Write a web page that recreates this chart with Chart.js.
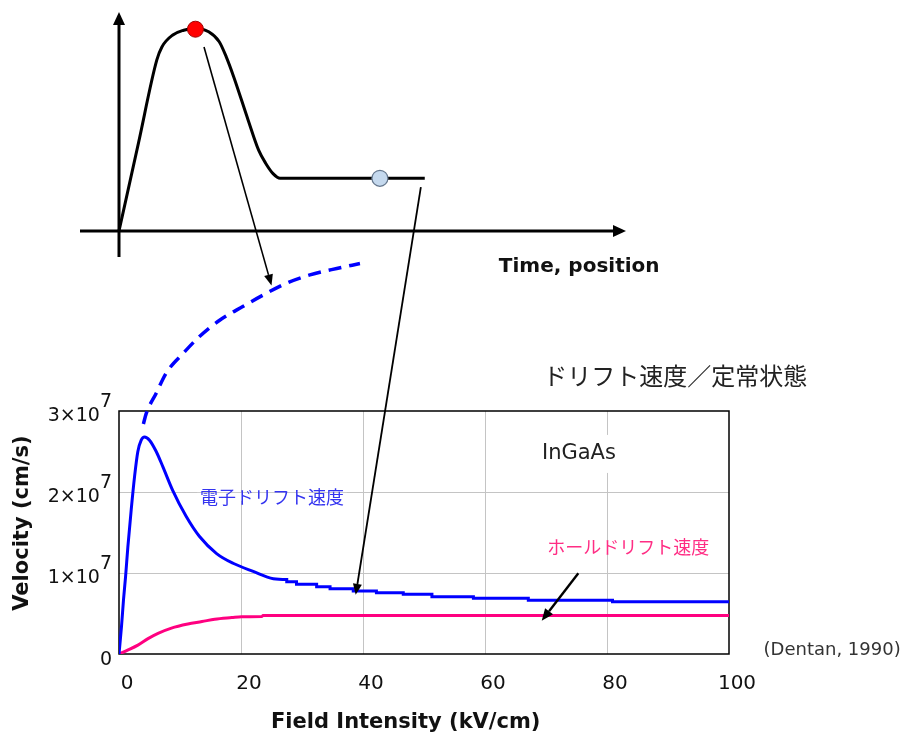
<!DOCTYPE html>
<html><head><meta charset="utf-8">
<script src="https://cdn.jsdelivr.net/npm/chart.js@4.4.1/dist/chart.umd.min.js"></script>
<style>
html,body{margin:0;padding:0;background:#fff;}
#wrap{position:relative;width:906px;height:738px;overflow:hidden;}
#wrap canvas{position:absolute;left:0;top:0;}
</style></head><body>
<div id="wrap"><canvas id="schem" width="906" height="738"></canvas><canvas id="main" width="906" height="738"></canvas></div>
<script>
// ---------- main chart data (velocity in units of 10^7 cm/s) ----------
const eField = [0,0.41,0.74,1.07,1.45,2.0,2.55,3.09,3.64,4.19,5.0,6.1,7.2,8.8,11.0,13.2,16.0,18.7,22.0,25.3,27.5,27.5,29.1,29.1,32.4,32.4,34.6,34.6,38.4,38.4,42.2,42.2,46.6,46.6,51.3,51.3,58.1,58.1,67.1,67.1,80.9,80.9,100];
const eVel   = [0,0.34,0.67,0.95,1.32,1.78,2.19,2.50,2.64,2.68,2.64,2.50,2.31,2.02,1.70,1.45,1.24,1.12,1.02,0.93,0.92,0.893,0.893,0.86,0.86,0.831,0.831,0.806,0.806,0.778,0.778,0.757,0.757,0.737,0.737,0.707,0.707,0.688,0.688,0.665,0.665,0.645,0.645];
const hField = [0,1.5,3.1,4.76,6.4,8.6,11.3,13.6,15.7,18.5,20.1,23.4,23.6,100];
const hVel   = [0,0.05,0.11,0.19,0.255,0.32,0.37,0.40,0.43,0.45,0.46,0.462,0.474,0.474];
const dField = [4.0,4.47,6.1,7.75,10.5,13.2,16.5,20.3,23.6,27.5,31.3,35.7,39.5];
const dVel   = [2.84,2.97,3.22,3.47,3.71,3.92,4.12,4.29,4.43,4.58,4.68,4.76,4.82];
const xTicks = [0,20,40,60,80,100];
const yTickMantissa = ['0','1×10','2×10','3×10'];
const yTickExponent = '7';

// ---------- schematic (time / position) data ----------
const sTime = [0,0.5,0.97,1.10,1.38,1.66,1.96,2.30,2.57,2.75,2.94,3.31,3.58,3.76,3.95,4.13,7.84];
const sVal  = [0,1.69,3.28,3.53,3.76,3.85,3.89,3.82,3.63,3.34,2.96,2.13,1.55,1.30,1.10,1.01,1.01];
const peakDot = [1.96,3.87];
const steadyDot = [6.69,1.01];

const LATIN = "'DejaVu Sans', sans-serif";
const CJK = "'Noto Sans CJK JP', sans-serif";
Chart.defaults.font.family = LATIN;

const pts = (xs, ys) => xs.map((x,i)=>({x, y: ys[i]}));

function drawArrow(ctx,x1,y1,x2,y2,w,hl,hw){
  const a = Math.atan2(y2-y1,x2-x1);
  const bx = x2-hl*Math.cos(a), by = y2-hl*Math.sin(a);
  ctx.save();
  ctx.strokeStyle='#000'; ctx.fillStyle='#000'; ctx.lineWidth=w;
  ctx.beginPath(); ctx.moveTo(x1,y1); ctx.lineTo(bx,by); ctx.stroke();
  ctx.beginPath(); ctx.moveTo(x2,y2);
  ctx.lineTo(bx+hw*Math.sin(a), by-hw*Math.cos(a));
  ctx.lineTo(bx-hw*Math.sin(a), by+hw*Math.cos(a));
  ctx.closePath(); ctx.fill();
  ctx.restore();
}

// ---------- schematic chart ----------
const schemPlugin = {
  id:'schemAxes',
  beforeDatasetsDraw(chart){
    const {ctx, chartArea:a, scales:{x,y}} = chart;
    const x0 = x.getPixelForValue(0), y0 = y.getPixelForValue(0);
    ctx.save();
    ctx.strokeStyle='#000'; ctx.fillStyle='#000'; ctx.lineWidth=3;
    ctx.beginPath(); ctx.moveTo(a.left,y0); ctx.lineTo(a.right-10,y0); ctx.stroke();
    ctx.beginPath(); ctx.moveTo(a.right,y0); ctx.lineTo(a.right-13,y0-6); ctx.lineTo(a.right-13,y0+6); ctx.closePath(); ctx.fill();
    ctx.beginPath(); ctx.moveTo(x0,a.bottom); ctx.lineTo(x0,a.top+10); ctx.stroke();
    ctx.beginPath(); ctx.moveTo(x0,a.top); ctx.lineTo(x0-6,a.top+13); ctx.lineTo(x0+6,a.top+13); ctx.closePath(); ctx.fill();
    ctx.restore();
  },
  afterDraw(chart){
    const {ctx, scales:{x,y}} = chart;
    ctx.save();
    ctx.font = "bold 20px "+LATIN; ctx.fillStyle='#111';
    ctx.textAlign='center'; ctx.textBaseline='middle';
    ctx.fillText('Time, position', x.getPixelForValue(11.8), y.getPixelForValue(-0.69));
    ctx.restore();
  }
};

const schem = new Chart(document.getElementById('schem'), {
  type:'line',
  data:{datasets:[
    {data:[{x:peakDot[0],y:peakDot[1]}], showLine:false, pointRadius:8, pointBackgroundColor:'#ff0000', pointBorderColor:'#a00000', pointBorderWidth:1, order:0},
    {data:[{x:steadyDot[0],y:steadyDot[1]}], showLine:false, pointRadius:8, pointBackgroundColor:'#c5d9ee', pointBorderColor:'#66788e', pointBorderWidth:1.2, order:0},
    {data:pts(sTime,sVal), borderColor:'#000', borderWidth:3, pointRadius:0, cubicInterpolationMode:'monotone', fill:false, order:1}
  ]},
  options:{
    responsive:false, animation:false, devicePixelRatio:1,
    layout:{padding:{left:80,right:280,top:12,bottom:481}},
    plugins:{legend:{display:false}, tooltip:{enabled:false}},
    scales:{
      x:{type:'linear', min:-1, max:13, display:false},
      y:{type:'linear', min:-0.5, max:4.2, display:false}
    }
  },
  plugins:[schemPlugin]
});

// ---------- main chart ----------
const notes = [
  {text:'InGaAs', x:75.4, y:2.47, font:'21px '+LATIN, color:'#222', padX:10, padY:19},
  {text:'電子ドリフト速度', x:25.1, y:1.94, font:'18px '+CJK, color:'#3434f0', padX:3, padY:4},
  {text:'ホールドリフト速度', x:83.5, y:1.32, font:'18px '+CJK, color:'#ff2d84', padX:3, padY:4}
];
const outerNotes = [
  {text:'ドリフト速度／定常状態', x:91.2, y:3.43, font:'24px '+CJK, color:'#222'},
  {text:'(Dentan, 1990)', x:116.9, y:0.05, font:'18px '+LATIN, color:'#333'}
];

const mainPlugin = {
  id:'mainDeco',
  beforeDatasetsDraw(chart){
    const {ctx, chartArea:a, scales:{x,y}} = chart;
    ctx.save();
    notes.forEach(n=>{
      const px = x.getPixelForValue(n.x), py = y.getPixelForValue(n.y);
      ctx.font = n.font;
      const w = ctx.measureText(n.text).width;
      ctx.fillStyle='#fff';
      ctx.fillRect(px-w/2-n.padX, py-n.padY, w+2*n.padX, 2*n.padY);
      ctx.fillStyle=n.color; ctx.textAlign='center'; ctx.textBaseline='middle';
      ctx.fillText(n.text, px, py);
    });
    ctx.strokeStyle='#000'; ctx.lineWidth=1.5;
    ctx.strokeRect(a.left, a.top, a.right-a.left, a.bottom-a.top);
    ctx.restore();
  },
  afterDraw(chart){
    const {ctx, chartArea:a, scales:{x,y}} = chart;
    ctx.save();
    // y tick labels with superscript exponent
    ctx.font = '19px '+LATIN; ctx.fillStyle='#111'; ctx.textAlign='right'; ctx.textBaseline='alphabetic';
    const rx = a.left - 7;
    y.ticks.forEach((t,i)=>{
      const py = y.getPixelForValue(t.value);
      const m = yTickMantissa[i];
      if (t.value === 0){ ctx.fillText(m, rx, py+10.5); return; }
      const ew = ctx.measureText(yTickExponent).width;
      ctx.fillText(yTickExponent, rx, py-4);
      ctx.fillText(m, rx-ew, py+10);
    });
    // outer notes
    outerNotes.forEach(n=>{
      ctx.font=n.font; ctx.fillStyle=n.color; ctx.textAlign='center'; ctx.textBaseline='middle';
      ctx.fillText(n.text, x.getPixelForValue(n.x), y.getPixelForValue(n.y));
    });
    // arrows
    const sx = schem.scales.x, sy = schem.scales.y;
    drawArrow(ctx, sx.getPixelForValue(2.18), sy.getPixelForValue(3.53), x.getPixelForValue(25.0), y.getPixelForValue(4.55), 1.6, 11, 4.5);
    drawArrow(ctx, sx.getPixelForValue(7.74), sy.getPixelForValue(0.84), x.getPixelForValue(38.8), y.getPixelForValue(0.73), 1.8, 11, 4.5);
    drawArrow(ctx, x.getPixelForValue(75.3), y.getPixelForValue(0.996), x.getPixelForValue(69.3), y.getPixelForValue(0.41), 2.4, 12, 5);
    ctx.restore();
  }
};

const gridColor = c => (c.tick && (c.index === 0 || c.index === c.scale.ticks.length-1)) ? 'rgba(0,0,0,0)' : '#c4c4c4';

new Chart(document.getElementById('main'), {
  type:'line',
  data:{datasets:[
    {label:'dash', data:pts(dField,dVel), borderColor:'#0000ff', borderWidth:3.5, borderDash:[13,8], pointRadius:0, cubicInterpolationMode:'monotone', clip:false, fill:false},
    {label:'electron', data:pts(eField,eVel), borderColor:'#0000ff', borderWidth:3, pointRadius:0, cubicInterpolationMode:'monotone', fill:false},
    {label:'hole', data:pts(hField,hVel), borderColor:'#ff0080', borderWidth:3, pointRadius:0, cubicInterpolationMode:'monotone', fill:false}
  ]},
  options:{
    responsive:false, animation:false, devicePixelRatio:1,
    layout:{padding:{left:0,right:177,top:411,bottom:0}},
    plugins:{legend:{display:false}, tooltip:{enabled:false}},
    scales:{
      x:{type:'linear', min:0, max:100,
        afterBuildTicks: s => { s.ticks = xTicks.map(v=>({value:v})); },
        afterFit: s => { s.height = 84; },
        grid:{color:gridColor, lineWidth:1, drawTicks:false},
        border:{display:false},
        ticks:{font:{size:20, family:LATIN}, color:'#111', padding:18, labelOffset:8, maxRotation:0, autoSkip:false},
        title:{display:true, text:'Field Intensity (kV/cm)     ', font:{size:21, weight:'bold', family:LATIN}, color:'#111', padding:{top:0,bottom:3}}
      },
      y:{type:'linear', min:0, max:3,
        ticks:{stepSize:1, display:false},
        afterFit: s => { s.width = 119; },
        grid:{color:gridColor, lineWidth:1, drawTicks:false},
        border:{display:false},
        title:{display:true, text:'  \u2009Velocity (cm/s)', font:{size:21, weight:'bold', family:LATIN}, color:'#111', padding:{top:10,bottom:0}}
      }
    }
  },
  plugins:[mainPlugin]
});
</script>
</body></html>
